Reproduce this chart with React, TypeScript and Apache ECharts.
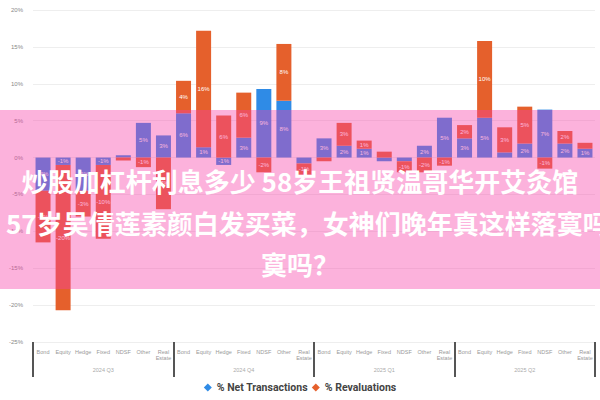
import React, { useEffect, useRef } from "react";
import * as echarts from "echarts";

const groupCats = ["Bond", "Equity", "Hedge", "Fixed", "NDSF", "Other", "Real\nEstate"];
const groups = ["2024 Q3", "2024 Q4", "2025 Q1", "2025 Q2"];
const categories = groups.flatMap(() => groupCats);
const netTransactions = [-4.5, -1, -4.5, -1, 0.3, 4.7, 3, 6, 1.4, -1, 2.7, 9.3, 7.7, -0.8, 2.6, 1.6, 1.2, -0.5, -0.5, 1.6, 5.4, 2.6, 5.4, 0.7, 1.9, 6.5, 1.9, 1.2];
const revaluations = [-7, -19.7, -3.5, -10, -0.4, -1.3, -7, 4.4, 15.8, 5.7, 6.1, -2, 7.7, -1.5, -0.5, 3.1, 1.1, 0.8, -1.5, -2, -1.1, 1.8, 10.4, 3.4, 5, -1.5, 1.7, 0.8];
const yTicks = { min: -25, max: 20, interval: 5 };
const bannerLines = [
  "炒股加杠杆利息多少 58岁王祖贤温哥华开艾灸馆",
  "57岁吴倩莲素颜白发买菜，女神们晚年真这样落寞吗",
  "寞吗？",
];

export default function App() {
  const ref = useRef<HTMLDivElement>(null);
  useEffect(() => {
    if (!ref.current) return;
    const chart = echarts.init(ref.current, null, { renderer: "svg" });
    const label = {
      show: true,
      position: "inside",
      color: "#fff",
      fontSize: 6,
      formatter: (p: any) => (Math.abs(p.value) >= 1 ? Math.round(p.value) + "%" : ""),
    };
    chart.setOption({
      animation: false,
      backgroundColor: "#fff",
      grid: { left: 33, right: 5, top: 10, bottom: 58 },
      legend: {
        bottom: 2,
        left: "center",
        icon: "diamond",
        itemWidth: 8,
        itemHeight: 8,
        itemGap: 4,
        textStyle: { fontSize: 10.5, fontWeight: "bold", color: "#444", fontFamily: "Roboto" },
        data: ["% Net Transactions", "% Revaluations"],
      },
      xAxis: [
        {
          type: "category",
          data: categories,
          axisLine: { show: false },
          axisTick: { show: false },
          axisLabel: { interval: 0, fontSize: 5.5, lineHeight: 6, color: "#999", margin: 7 },
        },
        {
          type: "category",
          data: groups,
          position: "bottom",
          axisLine: { show: false },
          axisTick: { show: true, length: 35, lineStyle: { color: "#555", width: 2 } },
          axisLabel: { fontSize: 5.5, color: "#aaa", margin: 25 },
        },
      ],
      yAxis: {
        type: "value",
        min: yTicks.min,
        max: yTicks.max,
        interval: yTicks.interval,
        axisLabel: { formatter: "{value}%", fontSize: 6, color: "#888", margin: 10 },
        splitLine: { lineStyle: { color: "#eee" } },
        axisLine: { show: false },
      },
      series: [
        {
          name: "% Net Transactions",
          type: "bar",
          stack: "s",
          barWidth: 15,
          data: netTransactions,
          itemStyle: { color: "#2f8be6" },
          label,
        },
        {
          name: "% Revaluations",
          type: "bar",
          stack: "s",
          barWidth: 15,
          data: revaluations,
          itemStyle: { color: "#e5602c" },
          label,
        },
      ],
      graphic: [
        {
          type: "rect",
          z: 100,
          shape: { x: 0, y: 110, width: 600, height: 179 },
          style: { fill: "rgba(247,62,167,0.4)" },
        },
        {
          type: "text",
          z: 101,
          x: 300,
          y: 180,
          style: {
            text: bannerLines[0],
            fill: "#fff",
            font: "bold 26px 'Noto Sans CJK SC'",
            textAlign: "center",
            textVerticalAlign: "middle",
          },
        },
        {
          type: "text",
          z: 101,
          x: 6,
          y: 222,
          style: {
            text: bannerLines[1],
            fill: "#fff",
            font: "bold 26px 'Noto Sans CJK SC'",
            textAlign: "left",
            textVerticalAlign: "middle",
          },
        },
        {
          type: "text",
          z: 101,
          x: 300,
          y: 263,
          style: {
            text: bannerLines[2],
            fill: "#fff",
            font: "bold 26px 'Noto Sans CJK SC'",
            textAlign: "center",
            textVerticalAlign: "middle",
          },
        },
      ],
    });
    return () => chart.dispose();
  }, []);
  return <div ref={ref} style={{ width: 600, height: 400, position: "fixed", left: 0, top: 0 }} />;
}
